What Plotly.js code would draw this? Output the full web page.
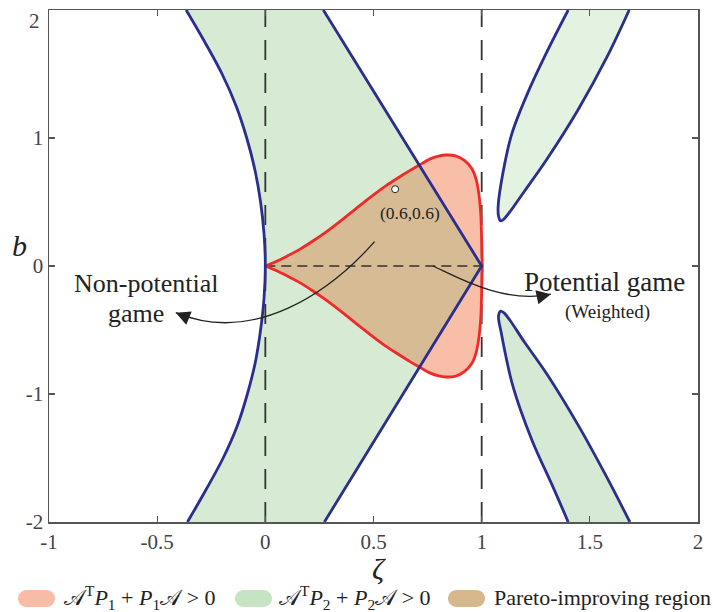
<!DOCTYPE html>
<html><head><meta charset="utf-8">
<script src="https://cdn.plot.ly/plotly-3.0.1.min.js"></script>
<style>html,body{margin:0;padding:0;background:#fff}</style>
</head><body><div id="chart" style="width:713px;height:612px"></div>
<script>
// ---------- data ----------
// left boundary of the A^T P2 + P2 A > 0 region (top -> bottom)
const leftX = [-0.366,-0.28,-0.20,-0.135,-0.086,-0.048,-0.022,-0.006,0,-0.006,-0.022,-0.046,-0.083,-0.13,-0.195,-0.275,-0.36];
const leftY = [2,1.75,1.5,1.25,1.0,0.75,0.5,0.25,0,-0.25,-0.5,-0.75,-1.0,-1.25,-1.5,-1.75,-2];
// right (straight) boundary of the main green region
const vX = [0.268,1.0,0.273];
const vY = [2,0,-2];
// upper right lobe (left edge top->tip, right edge tip->top)
const upLobeX = [1.400,1.298,1.212,1.140,1.098,1.076,1.078,1.088,1.106,1.20,1.299,1.445,1.580,1.682];
const upLobeY = [2,1.661,1.349,1.036,0.724,0.463,0.39,0.352,0.372,0.59,0.828,1.219,1.635,2];
// lower right lobe
const loLobeX = [1.40,1.329,1.232,1.145,1.091,1.078,1.088,1.106,1.20,1.299,1.450,1.577,1.685];
const loLobeY = [-2,-1.724,-1.359,-0.943,-0.526,-0.39,-0.352,-0.37,-0.60,-0.838,-1.255,-1.646,-2];
// boundary of A^T P1 + P1 A > 0, upper branch (origin -> (1,0))
const redUpX = [0,0.05,0.10,0.157,0.22,0.28,0.35,0.435,0.50,0.56,0.62,0.667,0.71,0.76,0.80,0.836,0.88,0.92,0.955,0.975,0.988,0.996,1.0,1.003];
const redUpY = [0,0.035,0.077,0.128,0.195,0.265,0.355,0.47,0.555,0.63,0.695,0.745,0.787,0.835,0.858,0.867,0.86,0.825,0.76,0.672,0.55,0.40,0.2,0];
// lower branch (origin -> (1,0))
const redLoX = [0,0.05,0.10,0.157,0.22,0.28,0.35,0.435,0.50,0.56,0.62,0.667,0.71,0.76,0.80,0.836,0.88,0.92,0.955,0.975,0.988,0.996,1.0,1.003];
const redLoY = [0,-0.035,-0.077,-0.128,-0.195,-0.265,-0.355,-0.47,-0.555,-0.63,-0.695,-0.745,-0.787,-0.835,-0.858,-0.867,-0.86,-0.825,-0.76,-0.672,-0.55,-0.40,-0.2,0];
// where the red boundary meets the straight blue boundary
const crossX = 0.71;
const apex = [1.0, 0];
// dashed reference lines
const refVX = [0, 1];          // vertical dashed lines at zeta = 0 and 1
const refVY = [-2, 2];
const refHX = [0, 1];          // horizontal dashed segment at b = 0
const refHY = [0, 0];
const point = {x:[0.6], y:[0.6]};
const xTicks = [-1,-0.5,0,0.5,1,1.5,2];
const xTickText = ['-1','-0.5','0','0.5','1','1.5','2'];
const yTicks = [-2,-1,0,1,2];
const yTickText = ['-2','-1','0','1',''];
const topYLabel = '2';
const legendLabels = [
  '𝒜<sup>T</sup><i>P</i><sub>1</sub> + <i>P</i><sub>1</sub>𝒜 &gt; 0',
  '𝒜<sup>T</sup><i>P</i><sub>2</sub> + <i>P</i><sub>2</sub>𝒜 &gt; 0',
  'Pareto-improving region'
];
// arrows (start, control1, control2, tip)
const arrowNP = [[0.505,0.19],[0.30,-0.20],[-0.05,-0.62],[-0.414,-0.365]];
const arrowP  = [[0.775,0.0],[0.88,-0.08],[1.10,-0.30],[1.32,-0.22]];

// ---------- styles ----------
const C = {
  green:'#D6EAD4', upLobe:'#E4F2E2', loLobe:'#D6E9D4', pink:'#F9BEA8', tan:'#D7BB94',
  blue:'#2A2E8C', red:'#EE2A2A', swPink:'#F8BCA6', swGreen:'#C6E4C3', swTan:'#D6B78E'
};
const FONT = 'Liberation Serif';

const greenX = leftX.concat(vX.slice().reverse());
const greenY = leftY.concat(vY.slice().reverse());
const redX = redUpX.concat(redLoX.slice().reverse());
const redY = redUpY.concat(redLoY.slice().reverse());
const tanX = [], tanY = [];
redUpX.forEach((x,i)=>{ if (x<=crossX){tanX.push(x);tanY.push(redUpY[i]);} });
tanX.push(apex[0]); tanY.push(apex[1]);
for (let i=redLoX.length-1;i>=0;i--){ if (redLoX[i]<=crossX){tanX.push(redLoX[i]);tanY.push(redLoY[i]);} }

const fillTrace = (x,y,color,sm)=>({x,y,type:'scatter',mode:'lines',fill:'toself',fillcolor:color,
  line:{width:0,color:color,shape:sm?'spline':'linear',smoothing:sm||0},hoverinfo:'skip',showlegend:false});
const lineTrace = (x,y,color,w,sm,dash)=>({x,y,type:'scatter',mode:'lines',
  line:{color,width:w,shape:sm?'spline':'linear',smoothing:sm||0,dash:dash||'solid'},hoverinfo:'skip',showlegend:false});

const data = [
  fillTrace(greenX,greenY,C.green,0),
  fillTrace(upLobeX,upLobeY,C.upLobe,1),
  fillTrace(loLobeX,loLobeY,C.loLobe,1),
  fillTrace(redX,redY,C.pink,0),
  fillTrace(tanX,tanY,C.tan,0),
  lineTrace([refVX[0],refVX[0]],refVY,'#333',1.8,0,'20px,13px'),
  lineTrace([refVX[1],refVX[1]],refVY,'#333',1.8,0,'20px,13px'),
  lineTrace(refHX,refHY,'#333',1.5,0,'10px,6px'),
  lineTrace(redUpX,redUpY,C.red,2.8,0.8),
  lineTrace(redLoX,redLoY,C.red,2.8,0.8),
  lineTrace(leftX,leftY,C.blue,2.8,1),
  lineTrace(vX,vY,C.blue,2.8,0),
  lineTrace(upLobeX,upLobeY,C.blue,2.8,1),
  lineTrace(loLobeX,loLobeY,C.blue,2.8,1),
  {x:point.x,y:point.y,type:'scatter',mode:'markers',marker:{size:7,color:'#fff',line:{color:'#222',width:1}},hoverinfo:'skip',showlegend:false}
];

// ---------- layout ----------
const L=49,R=698,T=10,B=522;
const px2paperX = p=>(p-L)/(R-L);
const px2paperY = p=>(B-p)/(B-T);
function pill(x0,x1,y0,y1){
  const r=(y1-y0)/2, k=0.5523*r, ym=(y0+y1)/2;
  const P=(x,y)=>px2paperX(x).toFixed(5)+','+px2paperY(y).toFixed(5);
  return 'M'+P(x0+r,y0)+' L'+P(x1-r,y0)+
    ' C'+P(x1-r+k,y0)+' '+P(x1,ym-k)+' '+P(x1,ym)+
    ' C'+P(x1,ym+k)+' '+P(x1-r+k,y1)+' '+P(x1-r,y1)+
    ' L'+P(x0+r,y1)+
    ' C'+P(x0+r-k,y1)+' '+P(x0,ym+k)+' '+P(x0,ym)+
    ' C'+P(x0,ym-k)+' '+P(x0+r-k,y0)+' '+P(x0+r,y0)+' Z';
}
const bez = a=>'M '+a[0].join(' ')+' C '+a[1].join(' ')+' '+a[2].join(' ')+' '+a[3].join(' ');

const swatches = [[18,55,C.swPink],[235,272,C.swGreen],[448,485,C.swTan]];
const legendTextX = [62,277,492];

const shapes = [
  {type:'path',xref:'x',yref:'y',path:bez(arrowNP),line:{color:'#222',width:1.3}},
  {type:'path',xref:'x',yref:'y',path:bez(arrowP),line:{color:'#222',width:1.3}},
];
swatches.forEach(s=>shapes.push({type:'path',xref:'paper',yref:'paper',path:pill(s[0],s[1],590,607),
  fillcolor:s[2],line:{width:0}}));

function head(a){
  const tip=a[3], c=a[2];
  const dx=tip[0]-c[0], dy=tip[1]-c[1], n=Math.hypot(dx*216,dy*128);
  const back=6/n;
  return {x:tip[0],y:tip[1],ax:tip[0]-dx*back,ay:tip[1]-dy*back,xref:'x',yref:'y',axref:'x',ayref:'y',
    text:'',showarrow:true,arrowhead:2,arrowsize:2.2,arrowwidth:1.3,arrowcolor:'#222',standoff:0};
}
const txt = (t,x,y,size)=>({text:t,x,y,xref:'x',yref:'y',showarrow:false,xanchor:'center',yanchor:'middle',
  font:{family:FONT,size,color:'#222'}});

const annotations = [
  head(arrowNP), head(arrowP),
  txt('Non-potential',-0.551,-0.135,26),
  txt('game',-0.597,-0.37,26),
  txt('Potential game',1.568,-0.123,27),
  txt('(Weighted)',1.583,-0.357,19),
  txt('(0.6,0.6)',0.669,0.412,17.5),
  {text:topYLabel,xref:'paper',yref:'paper',x:px2paperX(42),y:px2paperY(21),xanchor:'right',yanchor:'middle',showarrow:false,font:{family:FONT,size:21,color:'#444'}},
  {text:'<i>ζ</i>',xref:'paper',yref:'paper',x:px2paperX(379),y:px2paperY(568),xanchor:'center',yanchor:'middle',showarrow:false,font:{family:FONT,size:30,color:'#222'}},
  {text:'<i>b</i>',xref:'paper',yref:'paper',x:px2paperX(19),y:px2paperY(245),xanchor:'center',yanchor:'middle',showarrow:false,font:{family:FONT,size:30,color:'#222'}},
];
legendLabels.forEach((t,i)=>annotations.push({text:t,xref:'paper',yref:'paper',x:px2paperX(legendTextX[i]),
  y:px2paperY(597),xanchor:'left',yanchor:'middle',showarrow:false,font:{family:FONT,size:22,color:'#222'}}));

const axisCommon = {showgrid:false,zeroline:false,showline:true,linecolor:'#555',linewidth:1.5,mirror:'ticks',
  ticks:'inside',ticklen:6,tickwidth:1.2,tickcolor:'#555',
  tickfont:{family:FONT,size:21,color:'#444'},fixedrange:true};
const layout = {
  width:713,height:612,margin:{l:L,r:713-R,t:T,b:612-B},
  paper_bgcolor:'#fff',plot_bgcolor:'#fff',showlegend:false,
  xaxis:Object.assign({},axisCommon,{range:[-1,2],tickvals:xTicks,ticktext:xTickText}),
  yaxis:Object.assign({},axisCommon,{range:[-2,2],tickvals:yTicks,ticktext:yTickText}),
  shapes,annotations
};
Plotly.newPlot('chart',data,layout,{staticPlot:true,displayModeBar:false});
</script></body></html>
